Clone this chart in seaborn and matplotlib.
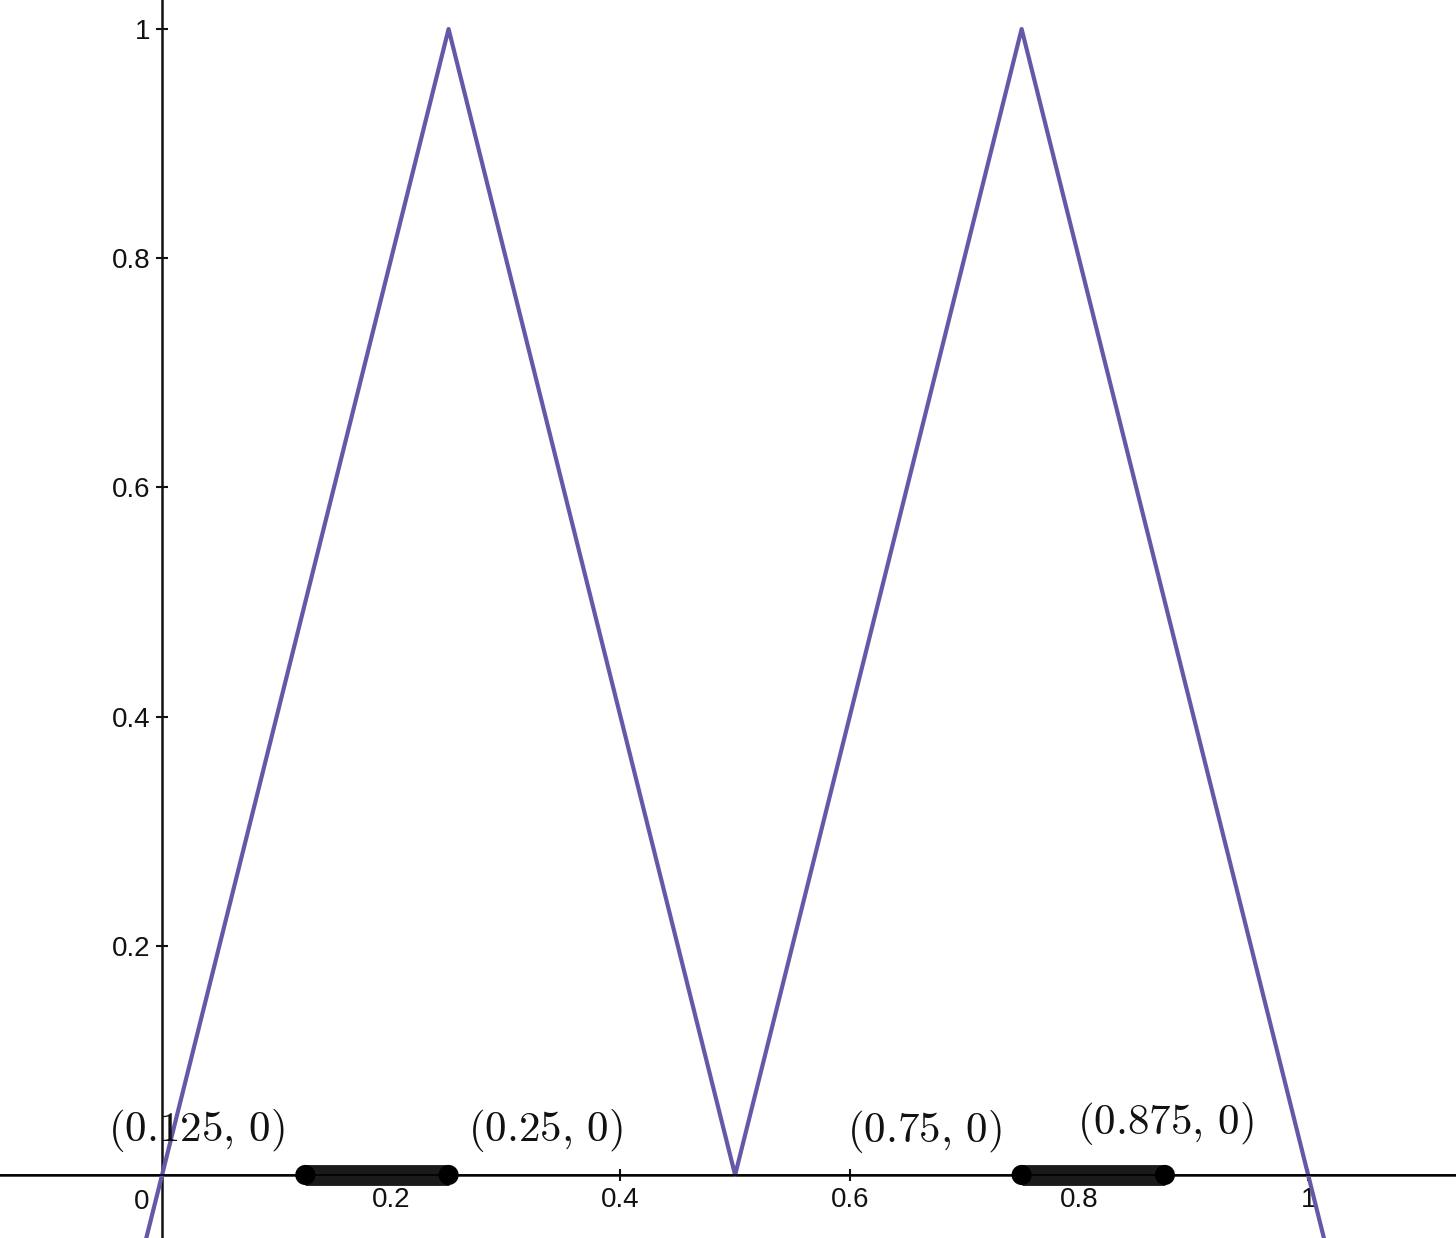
#Triangle wave with the two highlighted intervals on the x axis (GeoGebra style)
import pandas as pd
import numpy as np
import seaborn as sns
import matplotlib.pyplot as plt

# curve vertices
curve_x = [-0.02, 0.25, 0.5, 0.75, 1.02]
curve_y = [-0.08, 1.0, 0.0, 1.0, -0.08]

# highlighted intervals on y = 0
seg_start = [0.125, 0.75]
seg_end = [0.25, 0.875]

# point labels
point_labels = [r'$(0.125,\,0)$', r'$(0.25,\,0)$', r'$(0.75,\,0)$', r'$(0.875,\,0)$']
label_x = [0.030, 0.335, 0.665, 0.875]
label_y = [0.039, 0.039, 0.038, 0.0445]

x_ticks = [0.2, 0.4, 0.6, 0.8, 1.0]
x_tick_labels = ['0.2', '0.4', '0.6', '0.8', '1']
y_ticks = [0.2, 0.4, 0.6, 0.8, 1.0]
y_tick_labels = ['0.2', '0.4', '0.6', '0.8', '1']

sns.set_style('white')
plt.rcParams['font.family'] = ['Liberation Sans', 'DejaVu Sans']
plt.rcParams['mathtext.fontset'] = 'cm'

fig = plt.figure(figsize=(14.56, 12.38), dpi=100)
ax = fig.add_axes([0, 0, 1, 1])

curve = pd.DataFrame({'x': curve_x, 'y': curve_y})
sns.lineplot(data=curve, x='x', y='y', sort=False, estimator=None,
             color='#6658A8', linewidth=3, ax=ax, zorder=3)

for s, e in zip(seg_start, seg_end):
    seg = pd.DataFrame({'x': [s, e], 'y': [0, 0]})
    sns.lineplot(data=seg, x='x', y='y', sort=False, estimator=None,
                 color='#1a1a1a', lw=15, solid_capstyle='butt', ax=ax, zorder=4)
    sns.scatterplot(data=seg, x='x', y='y', color='black', s=210,
                    edgecolor='none', ax=ax, zorder=5)
# thin axis line shows through the segments
ax.axhline(0, color='black', linewidth=1.2, zorder=4.5)

for lab, lx, ly in zip(point_labels, label_x, label_y):
    ax.text(lx, ly, lab, fontsize=31, ha='center', va='center', color='#111111', zorder=6)

ax.set_xlim(-0.1414, 1.129)
ax.set_ylim(-0.055, 1.0253)

# axes through the origin
for side in ['top', 'right']:
    ax.spines[side].set_visible(False)
ax.spines['left'].set_position(('data', 0))
ax.spines['bottom'].set_position(('data', 0))
for side in ['left', 'bottom']:
    ax.spines[side].set_linewidth(1.8)
    ax.spines[side].set_color('#111111')
    ax.spines[side].set_zorder(2)

ax.set_xticks(x_ticks, labels=x_tick_labels)
ax.set_yticks(y_ticks, labels=y_tick_labels)
ax.tick_params(axis='both', bottom=True, left=True, direction='inout', length=9,
               width=1.5, labelsize=20, colors='#111111')
ax.tick_params(axis='x', pad=4)
ax.tick_params(axis='y', pad=4)
ax.text(-0.011, -0.012, '0', fontsize=20, ha='right', va='top', color='#111111')

ax.set_xlabel('')
ax.set_ylabel('')

plt.savefig('out.png', dpi=100)
